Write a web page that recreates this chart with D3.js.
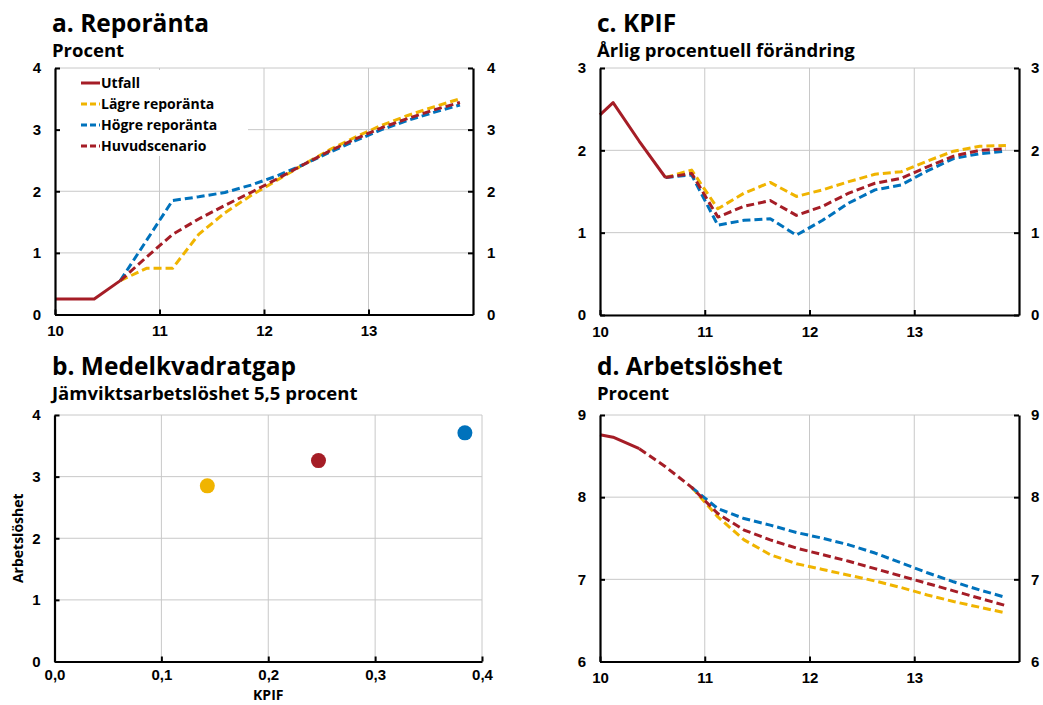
<!DOCTYPE html>
<html lang="sv">
<head>
  <meta charset="UTF-8">
  <title>Reporänta, KPIF, Arbetslöshet</title>
  <script src="https://d3js.org/d3.v7.min.js"></script>
  <style>
    body {
      margin: 0;
      background: #ffffff;
      font-family: "Open Sans", "Noto Sans", sans-serif;
    }
    svg { display: block; }
    .title { font-size: 24.5px; font-weight: bold; }
    .subtitle { font-size: 18.5px; font-weight: bold; }
    .tick text { font-size: 15px; font-weight: bold; fill: #000; }
    .axis-label { font-size: 14px; font-weight: bold; }
    .legend text { font-size: 14px; font-weight: bold; }
  </style>
</head>
<body>
  <svg id="chart" width="1043" height="705"></svg>
  <script>
    // colours
    const RED = "#a51d26", YELLOW = "#f0b400", BLUE = "#0072bc";

    // quarters (decimal years, mid-quarter)
    const quarters = [10.625, 10.875, 11.125, 11.375, 11.625, 11.875, 12.125, 12.375,
                      12.625, 12.875, 13.125, 13.375, 13.625, 13.875];
    const yearTicks = [10, 11, 12, 13];

    // a. Reporänta
    const repoUtfallX = [10.0, 10.125, 10.375, 10.625];
    const repoUtfall  = [0.25, 0.25, 0.25, 0.55];
    const repoLagre   = [0.55, 0.75, 0.75, 1.30, 1.65, 1.93, 2.18, 2.43, 2.67, 2.88, 3.07, 3.23, 3.37, 3.50];
    const repoHogre   = [0.55, 1.20, 1.85, 1.91, 1.98, 2.10, 2.25, 2.43, 2.63, 2.82, 3.00, 3.15, 3.28, 3.40];
    const repoHuvud   = [0.55, 0.93, 1.30, 1.55, 1.77, 1.98, 2.20, 2.43, 2.65, 2.85, 3.03, 3.18, 3.32, 3.44];

    // c. KPIF
    const kpifUtfallX = [10.0, 10.125, 10.375, 10.625];
    const kpifUtfall  = [2.43, 2.58, 2.11, 1.67];
    const kpifLagre   = [1.67, 1.76, 1.29, 1.48, 1.61, 1.44, 1.52, 1.62, 1.71, 1.74, 1.87, 1.99, 2.05, 2.06];
    const kpifHogre   = [1.67, 1.70, 1.09, 1.15, 1.17, 0.97, 1.15, 1.36, 1.52, 1.58, 1.75, 1.90, 1.96, 1.99];
    const kpifHuvud   = [1.67, 1.72, 1.19, 1.32, 1.39, 1.21, 1.32, 1.48, 1.60, 1.66, 1.80, 1.93, 2.00, 2.02];

    // d. Arbetslöshet
    const arbUtfallX = [10.0, 10.125, 10.375];
    const arbUtfall  = [8.76, 8.73, 8.59];
    const arbHuvudX  = [10.375, 10.625].concat(quarters.slice(1));
    const arbHuvud   = [8.59, 8.37, 8.12, 7.80, 7.60, 7.48, 7.38, 7.30, 7.22, 7.13, 7.04, 6.95, 6.86, 6.77, 6.68];
    const arbAltX    = quarters.slice(1);
    const arbLagre   = [8.12, 7.76, 7.48, 7.30, 7.19, 7.12, 7.05, 6.98, 6.90, 6.81, 6.73, 6.66, 6.59];
    const arbHogre   = [8.12, 7.86, 7.74, 7.66, 7.57, 7.50, 7.42, 7.32, 7.20, 7.08, 6.97, 6.87, 6.78];

    // b. Medelkvadratgap
    const gapScenarios = ["Lägre reporänta", "Huvudscenario", "Högre reporänta"];
    const gapKpif = [0.143, 0.247, 0.384];
    const gapArb  = [2.85, 3.26, 3.71];
    const gapColors = [YELLOW, RED, BLUE];

    const legendNames = ["Utfall", "Lägre reporänta", "Högre reporänta", "Huvudscenario"];

    const svg = d3.select("#chart");

    function titles(x, y, title, sub) {
      svg.append("text").attr("class", "title").attr("x", x).attr("y", y).text(title);
      svg.append("text").attr("class", "subtitle").attr("x", x).attr("y", y + 25).text(sub);
    }

    // frame with gridlines, inside ticks, left/right/bottom axes
    function frame(box, xs, ys, xTicks, yTicks, xFmt, rightAxis, rightPad, xPad) {
      const g = svg.append("g");
      // gridlines
      g.selectAll(".hg").data(yTicks).join("line")
        .attr("x1", box.l).attr("x2", box.r)
        .attr("y1", d => ys(d)).attr("y2", d => ys(d))
        .attr("stroke", "#c8c8c8").attr("stroke-width", 1);
      g.selectAll(".vg").data(xTicks.filter(d => xs(d) > box.l + 1 && xs(d) < box.r - 1)).join("line")
        .attr("y1", box.t).attr("y2", box.b)
        .attr("x1", d => xs(d)).attr("x2", d => xs(d))
        .attr("stroke", "#c8c8c8").attr("stroke-width", 1);

      const ax = svg.append("g").attr("class", "axes");
      ax.append("g").attr("transform", `translate(${box.l},0)`)
        .call(d3.axisLeft(ys).tickValues(yTicks).tickFormat(d3.format("d"))
          .tickSizeInner(-5).tickSizeOuter(0).tickPadding(14));
      if (rightAxis) {
        ax.append("g").attr("transform", `translate(${box.r},0)`)
          .call(d3.axisRight(ys).tickValues(yTicks).tickFormat(d3.format("d"))
            .tickSizeInner(-5).tickSizeOuter(0).tickPadding(rightPad || 14));
      } else {
        ax.append("line").attr("x1", box.r).attr("x2", box.r).attr("y1", box.t).attr("y2", box.b)
          .attr("stroke", "#c8c8c8").attr("stroke-width", 1);
      }
      ax.append("g").attr("transform", `translate(0,${box.b})`)
        .call(d3.axisBottom(xs).tickValues(xTicks).tickFormat(xFmt)
          .tickSizeInner(-5).tickSizeOuter(0).tickPadding(xPad || 11));
      ax.selectAll(".domain").attr("stroke", "#000").attr("stroke-width", 2.2);
      ax.selectAll(".tick line").attr("stroke", "#000").attr("stroke-width", 2);
      return g;
    }

    function drawLine(xs, ys, xv, yv, color, dashed) {
      const line = d3.line().x((d, i) => xs(xv[i])).y(d => ys(d));
      svg.append("path").datum(yv)
        .attr("d", line)
        .attr("fill", "none")
        .attr("stroke", color)
        .attr("stroke-width", 3)
        .attr("stroke-linejoin", "round")
        .attr("stroke-dasharray", dashed ? "8,4" : null);
    }

    // ---------- a. Reporänta ----------
    const boxA = { l: 55, r: 473, t: 68, b: 314.5 };
    const xA = d3.scaleLinear().domain([10, 14]).range([boxA.l, boxA.r]);
    const yA = d3.scaleLinear().domain([0, 4]).range([boxA.b, boxA.t]);
    titles(52, 32, "a. Reporänta", "Procent");
    frame(boxA, xA, yA, yearTicks, [0, 1, 2, 3, 4], d3.format("d"), true);

    // legend (white box hides gridlines)
    const legend = svg.append("g").attr("class", "legend");
    legend.append("rect").attr("x", 57).attr("y", 70).attr("width", 191).attr("height", 86).attr("fill", "#fff");
    const legendColors = [RED, YELLOW, BLUE, RED];
    legendNames.forEach((name, i) => {
      const y = 83 + i * 21;
      legend.append("line").attr("x1", 81).attr("x2", 100).attr("y1", y).attr("y2", y)
        .attr("stroke", legendColors[i]).attr("stroke-width", 3)
        .attr("stroke-dasharray", i === 0 ? null : "6,3");
      legend.append("text").attr("x", 101).attr("y", y + 5).text(name);
    });

    drawLine(xA, yA, quarters, repoLagre, YELLOW, true);
    drawLine(xA, yA, quarters, repoHogre, BLUE, true);
    drawLine(xA, yA, quarters, repoHuvud, RED, true);
    drawLine(xA, yA, repoUtfallX, repoUtfall, RED, false);

    // ---------- c. KPIF ----------
    const boxC = { l: 600, r: 1019, t: 68, b: 315 };
    const xC = d3.scaleLinear().domain([10, 14]).range([boxC.l, boxC.r]);
    const yC = d3.scaleLinear().domain([0, 3]).range([boxC.b, boxC.t]);
    titles(597, 32, "c. KPIF", "Årlig procentuell förändring");
    frame(boxC, xC, yC, yearTicks, [0, 1, 2, 3], d3.format("d"), true, 12);
    drawLine(xC, yC, quarters, kpifLagre, YELLOW, true);
    drawLine(xC, yC, quarters, kpifHogre, BLUE, true);
    drawLine(xC, yC, quarters, kpifHuvud, RED, true);
    drawLine(xC, yC, kpifUtfallX, kpifUtfall, RED, false);

    // ---------- b. Medelkvadratgap ----------
    const boxB = { l: 54.5, r: 482, t: 415, b: 661.5 };
    const xB = d3.scaleLinear().domain([0, 0.4]).range([boxB.l, boxB.r]);
    const yB = d3.scaleLinear().domain([0, 4]).range([boxB.b, boxB.t]);
    titles(52, 375, "b. Medelkvadratgap", "Jämviktsarbetslöshet 5,5 procent");
    frame(boxB, xB, yB, [0, 0.1, 0.2, 0.3, 0.4], [0, 1, 2, 3, 4],
      d => d3.format(".1f")(d).replace(".", ","), false, null, 8);
    svg.append("g").selectAll("circle").data(gapScenarios).join("circle")
      .attr("cx", (d, i) => xB(gapKpif[i]))
      .attr("cy", (d, i) => yB(gapArb[i]))
      .attr("r", 7.5)
      .attr("fill", (d, i) => gapColors[i]);
    svg.append("text").attr("class", "axis-label").attr("x", xB(0.2)).attr("y", 700)
      .attr("text-anchor", "middle").text("KPIF");
    svg.append("text").attr("class", "axis-label")
      .attr("transform", `translate(23,${(boxB.t + boxB.b) / 2}) rotate(-90)`)
      .attr("text-anchor", "middle").text("Arbetslöshet");

    // ---------- d. Arbetslöshet ----------
    const boxD = { l: 600, r: 1019, t: 415, b: 661.5 };
    const xD = d3.scaleLinear().domain([10, 14]).range([boxD.l, boxD.r]);
    const yD = d3.scaleLinear().domain([6, 9]).range([boxD.b, boxD.t]);
    titles(597, 375, "d. Arbetslöshet", "Procent");
    frame(boxD, xD, yD, yearTicks, [6, 7, 8, 9], d3.format("d"), true, 12);
    drawLine(xD, yD, arbAltX, arbLagre, YELLOW, true);
    drawLine(xD, yD, arbAltX, arbHogre, BLUE, true);
    drawLine(xD, yD, arbHuvudX, arbHuvud, RED, true);
    drawLine(xD, yD, arbUtfallX, arbUtfall, RED, false);

    // axes on top of the lines
    svg.selectAll(".axes").raise();
  </script>
</body>
</html>
